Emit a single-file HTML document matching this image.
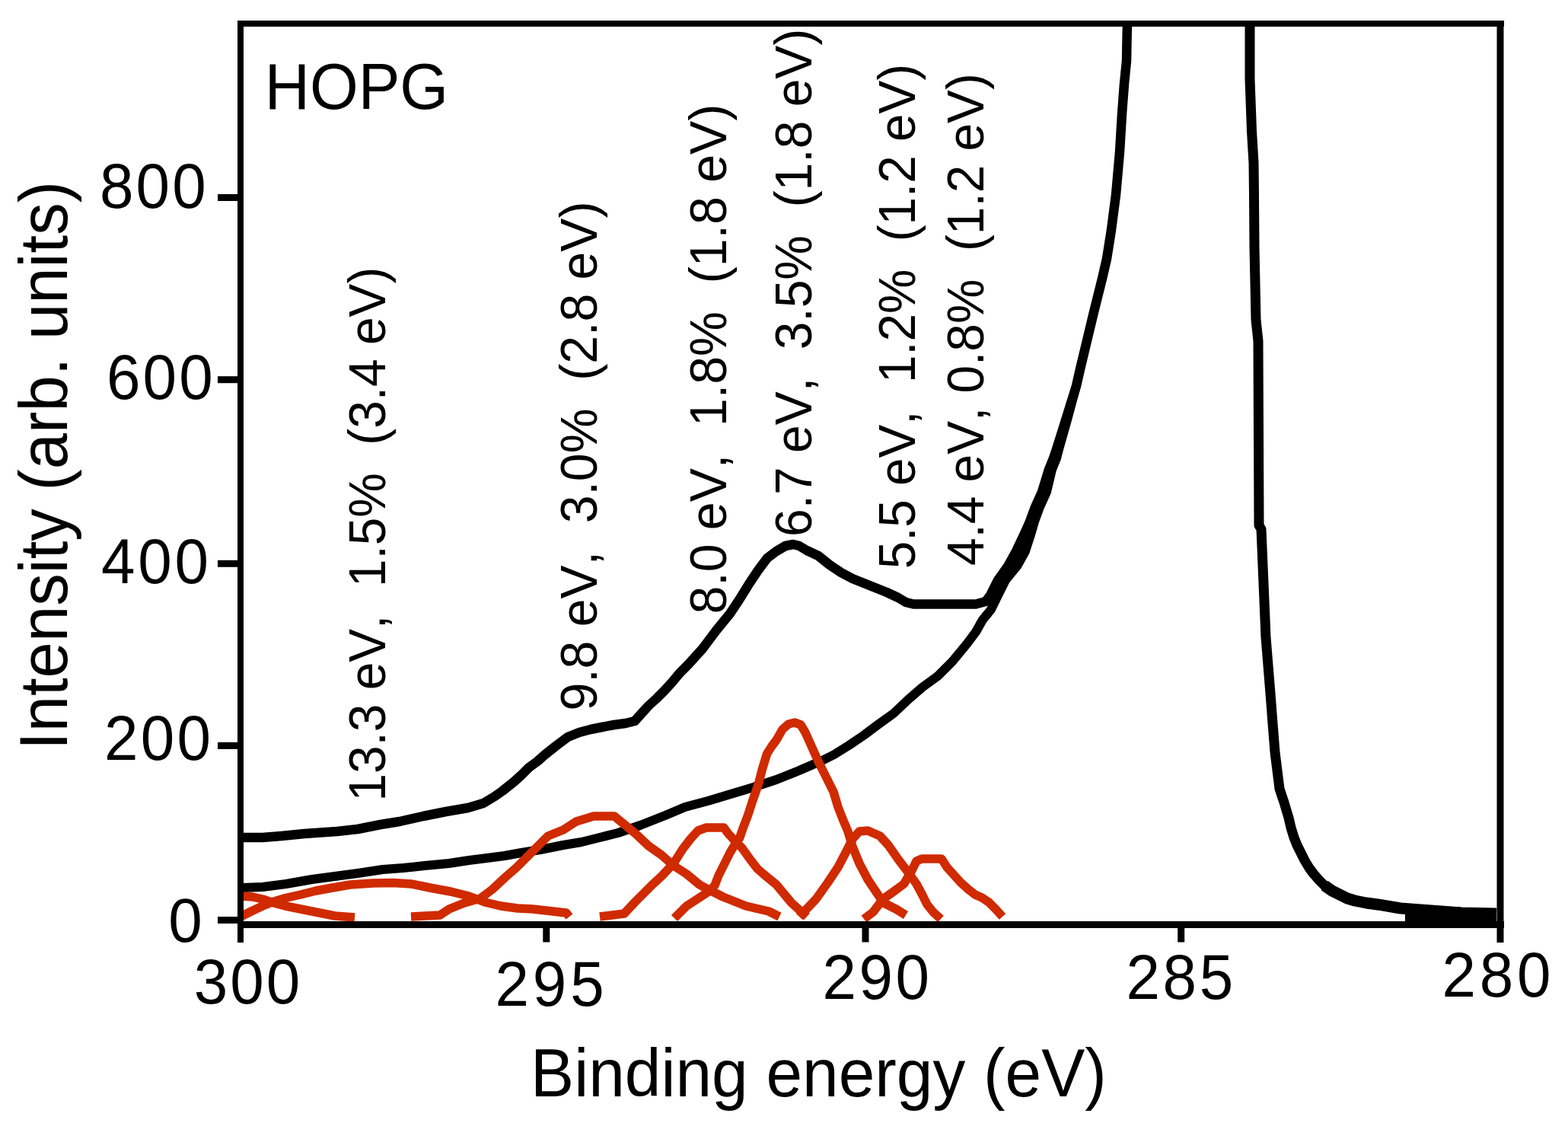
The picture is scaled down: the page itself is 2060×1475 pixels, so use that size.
<!DOCTYPE html><html><head><meta charset="utf-8"><title>HOPG XPS</title><style>html,body{margin:0;padding:0;background:#fff;}svg{display:block;}text{font-family:'Liberation Sans', Arial, Helvetica, sans-serif;fill:#000;font-kerning:none;font-feature-settings:"kern" 0;font-variant-ligatures:none;}</style></head><body>
<svg xmlns="http://www.w3.org/2000/svg" width="2060" height="1475" viewBox="0 0 2060 1475">
<rect x="0" y="0" width="2060" height="1475" fill="#fff"/>
<defs><filter id="soft" x="-1%" y="-1%" width="102%" height="102%"><feGaussianBlur stdDeviation="0.6"/></filter></defs>
<g filter="url(#soft)">
<g fill="none" stroke="#000" stroke-linejoin="round" stroke-linecap="butt">
<polyline stroke-width="12" points="318.0,1166.0 345.0,1165.0 376.0,1161.0 410.0,1155.0 440.0,1151.0 470.0,1147.0 503.0,1142.0 530.0,1140.0 558.0,1137.0 590.0,1134.0 616.0,1130.0 640.0,1127.0 663.0,1124.0 685.0,1120.0 710.0,1116.0 740.0,1110.0 764.0,1106.0 788.0,1100.0 812.0,1094.0 841.0,1084.0 874.0,1071.0 900.0,1060.0 930.0,1052.0 960.0,1043.0 990.0,1034.0 1020.0,1024.0 1050.0,1012.0 1080.0,999.0 1096.0,991.0 1116.0,978.5 1135.0,965.6 1154.0,951.4 1174.0,937.0 1193.0,919.0 1212.0,902.5 1232.0,888.0 1251.0,869.0 1270.0,846.0 1282.0,830.0 1291.0,814.0 1301.7,801.0 1311.0,782.0 1321.0,762.0 1336.5,743.0 1347.0,724.0 1353.5,704.0 1359.0,685.0 1366.0,666.0 1375.0,646.0 1382.0,616.6 1388.0,602.0 1391.5,588.6 1401.0,555.0 1414.0,507.0"/>
<polyline stroke-width="12.5" points="318.0,1100.0 345.0,1100.0 370.0,1098.0 400.0,1095.0 443.0,1092.0 470.0,1089.0 500.0,1083.0 525.0,1079.0 556.0,1072.0 586.0,1066.0 615.0,1061.0 635.0,1055.0 650.0,1046.0 660.0,1039.0 675.0,1027.0 685.0,1018.0 695.0,1008.0 706.0,1000.0 715.0,992.0 730.0,980.0 746.0,968.0 761.0,962.0 776.0,958.0 791.0,955.0 807.0,952.0 822.0,950.0 834.0,947.0 842.0,938.0 852.0,927.0 863.0,917.0 873.0,907.0 883.0,896.0 893.0,884.0 904.0,873.0 923.0,852.0 941.0,828.0 959.0,806.0 971.0,788.0 984.0,767.0 996.0,749.0 1008.0,733.0 1020.0,724.0 1032.0,717.0 1042.0,715.0 1050.0,717.0 1060.0,723.0 1075.0,730.0 1090.0,742.0 1105.0,752.0 1120.0,760.0 1135.0,766.0 1150.0,772.0 1165.0,778.0 1180.0,785.0 1190.0,791.0 1200.0,793.5 1282.0,793.5 1295.0,790.0 1301.0,782.0 1311.0,762.0 1324.5,743.0 1335.0,724.0 1344.5,704.0 1353.0,685.0 1360.0,666.0 1369.0,646.0 1378.0,616.6 1384.0,602.0 1388.5,588.6 1399.0,555.0 1414.0,507.0 1419.0,485.0 1425.0,460.0 1431.0,435.0 1437.0,410.0 1442.0,390.0 1448.0,366.0 1454.0,340.0 1460.0,302.0 1466.0,256.0 1471.0,200.0 1474.0,150.0 1477.0,110.0 1480.0,80.0 1481.0,28.0"/>
<polyline stroke-width="13" points="1642.0,28.0 1642.0,104.0 1644.5,172.0 1647.0,214.0 1647.5,256.0 1648.0,325.0 1650.0,420.0 1653.0,448.0 1653.5,567.0 1654.0,690.0 1657.0,695.0 1660.0,766.0 1663.0,837.0 1666.0,874.0 1669.0,911.0 1672.0,950.0 1675.0,988.0 1678.0,1012.0 1681.0,1036.0 1684.0,1045.0 1687.0,1054.0 1690.0,1064.0 1693.0,1074.0 1696.0,1087.0 1700.0,1100.0 1704.0,1110.0 1709.0,1120.0 1714.0,1130.0 1720.0,1140.0 1726.0,1148.0 1733.0,1156.0 1740.0,1163.0 1750.0,1170.0 1760.0,1175.0 1770.0,1180.0 1780.0,1183.0 1795.0,1186.0 1810.0,1188.0 1840.0,1193.0 1880.0,1196.0 1920.0,1199.0 1966.0,1200.0"/>
<polyline stroke-width="15" points="1740.0,1163.0 1750.0,1170.0 1760.0,1175.0 1770.0,1180.0 1780.0,1183.0 1795.0,1186.0 1810.0,1188.0 1840.0,1193.0 1880.0,1196.0 1920.0,1199.0 1966.0,1200.0"/>
</g>
<polygon fill="#000" points="1846,1191 1918,1191 1920,1196 1966,1196 1966,1212 1846,1212"/>
<g fill="none" stroke="#d02a00" stroke-width="11.5" stroke-linejoin="round" stroke-linecap="butt">
<polyline points="316.0,1177.0 332.0,1178.0 345.0,1181.0 360.0,1186.0 375.0,1190.0 395.0,1194.0 420.0,1199.0 440.0,1203.0 466.0,1205.0"/>
<polyline points="316.0,1204.0 330.0,1197.0 345.0,1190.0 360.0,1184.0 375.0,1179.5 395.0,1175.0 415.0,1170.0 437.0,1166.0 460.0,1162.0 490.0,1160.0 516.0,1159.5 540.0,1161.0 555.0,1164.0 570.0,1167.0 592.0,1171.0 616.0,1177.0 637.0,1185.0 658.0,1190.0 680.0,1193.0 700.0,1194.0 744.0,1199.0 748.0,1204.0"/>
<polyline points="540.0,1204.0 578.0,1202.0 590.0,1194.0 610.0,1186.0 631.0,1180.0 647.0,1168.0 663.0,1153.0 679.0,1139.0 700.0,1118.0 720.0,1098.0 740.0,1090.0 757.0,1079.0 780.0,1072.0 807.0,1072.0 818.0,1081.0 835.0,1095.0 852.0,1111.0 869.0,1123.0 885.0,1137.0 902.0,1148.0 919.0,1162.0 930.0,1168.0 950.0,1178.0 980.0,1190.0 1010.0,1197.0 1024.0,1204.0"/>
<polyline points="788.0,1204.0 820.0,1200.0 835.0,1184.0 846.0,1173.0 857.0,1162.0 869.0,1151.0 885.0,1134.0 897.0,1115.0 907.0,1102.0 917.0,1091.0 928.0,1087.0 951.0,1087.0 956.0,1094.0 965.0,1104.0 975.0,1114.0 985.0,1128.0 995.0,1141.0 1003.0,1148.0 1020.0,1162.0 1040.0,1186.0 1060.0,1204.0"/>
<polyline points="886.0,1206.0 902.0,1190.0 919.0,1179.0 931.0,1171.0 939.0,1163.0 944.0,1150.0 950.5,1137.0 959.0,1120.0 965.0,1110.0 971.5,1101.0 976.0,1088.0 982.5,1071.0 989.0,1051.0 996.0,1031.0 1001.5,1010.0 1007.6,990.0 1014.0,980.0 1020.0,972.0 1028.0,958.0 1036.0,951.0 1044.0,949.0 1052.0,952.0 1058.0,962.0 1075.0,1000.0 1085.0,1020.0 1095.0,1040.0 1101.0,1060.0 1108.0,1078.0 1114.0,1092.0 1120.0,1112.0 1129.0,1134.0 1140.0,1155.0 1150.0,1170.0 1161.0,1186.0 1177.0,1194.0 1190.0,1202.0"/>
<polyline points="1050.0,1204.0 1072.0,1181.0 1087.0,1160.0 1101.0,1139.0 1112.0,1118.0 1120.0,1102.0 1129.0,1092.0 1140.0,1091.0 1156.0,1098.0 1167.0,1110.0 1181.0,1130.0 1194.0,1147.0 1204.0,1161.0 1211.0,1174.0 1218.0,1188.0 1226.0,1198.0 1236.0,1207.0"/>
<polyline points="1135.0,1207.0 1147.0,1198.0 1160.0,1181.0 1174.0,1171.0 1187.5,1161.0 1197.6,1144.0 1204.0,1131.0 1211.0,1128.0 1237.0,1128.0 1244.0,1139.0 1253.0,1149.0 1262.0,1159.0 1272.0,1168.0 1281.0,1175.0 1290.0,1179.0 1299.0,1185.0 1308.0,1194.0 1317.0,1204.0"/>
</g>
<g fill="#000">
<rect x="312" y="27" width="1664" height="8"/>
<rect x="312" y="1210" width="1664" height="9"/>
<rect x="312" y="27" width="8" height="1211"/>
<rect x="1966.5" y="27" width="9" height="1211"/>
<rect x="286" y="255.0" width="28" height="9"/>
<rect x="286" y="494.2" width="28" height="9"/>
<rect x="286" y="735.8" width="28" height="9"/>
<rect x="286" y="974.9" width="28" height="9"/>
<rect x="286" y="1204.0" width="28" height="9"/>
<rect x="713.3" y="1214" width="9" height="23.5"/>
<rect x="1132.5" y="1214" width="9" height="23.5"/>
<rect x="1547.2" y="1214" width="9" height="23.5"/>
</g>
<text transform="translate(130.92,272.99) scale(1,1.0346)" font-size="80.00" letter-spacing="3.21">800</text>
<text transform="translate(139.94,523.89) scale(1,1.0328)" font-size="80.00" letter-spacing="3.11">600</text>
<text transform="translate(133.06,766.09) scale(1,1.0417)" font-size="80.00" letter-spacing="3.69">400</text>
<text transform="translate(136.98,998.19) scale(1,1.0328)" font-size="80.00" letter-spacing="3.24">200</text>
<text transform="translate(221.28,1236.80) scale(1,1.0293)" font-size="80.00">0</text>
<text transform="translate(254.85,1317.79) scale(1,1.0346)" font-size="80.00" letter-spacing="3.00">300</text>
<text transform="translate(650.38,1320.89) scale(1,1.0346)" font-size="80.00" letter-spacing="4.90">295</text>
<text transform="translate(1080.48,1311.69) scale(1,1.0417)" font-size="80.00" letter-spacing="3.49">290</text>
<text transform="translate(1479.48,1311.69) scale(1,1.0417)" font-size="80.00" letter-spacing="3.65">285</text>
<text transform="translate(1894.38,1308.59) scale(1,1.0328)" font-size="80.00" letter-spacing="4.79">280</text>
<text transform="translate(347.78,143.20) scale(1,1.0340)" font-size="81.96">HOPG</text>
<text transform="translate(697.08,1439.60) scale(1,1.0456)" font-size="85.63">Binding energy (eV)</text>
<text transform="translate(87.90,985.05) rotate(-90) scale(1,1.0489)" font-size="85.08" xml:space="preserve">Intensity (arb. units)</text>
<text transform="translate(506.00,1052.61) rotate(-90) scale(1,1.0400)" font-size="65.78" xml:space="preserve">13.3 eV,  1.5%  (3.4 eV)</text>
<text transform="translate(783.50,933.60) rotate(-90) scale(1,1.0400)" font-size="66.15" xml:space="preserve">9.8 eV,  3.0%  (2.8 eV)</text>
<text transform="translate(953.50,806.58) rotate(-90) scale(1,1.0400)" font-size="66.23" xml:space="preserve">8.0 eV,  1.8%  (1.8 eV)</text>
<text transform="translate(1065.50,705.05) rotate(-90) scale(1,1.0400)" font-size="65.97" xml:space="preserve">6.7 eV,  3.5%  (1.8 eV)</text>
<text transform="translate(1201.50,747.33) rotate(-90) scale(1,1.0400)" font-size="65.58" xml:space="preserve">5.5 eV,  1.2%  (1.2 eV)</text>
<text transform="translate(1291.50,743.11) rotate(-90) scale(1,1.0400)" font-size="65.76" xml:space="preserve">4.4 eV, 0.8%  (1.2 eV)</text>
</g>
</svg></body></html>
